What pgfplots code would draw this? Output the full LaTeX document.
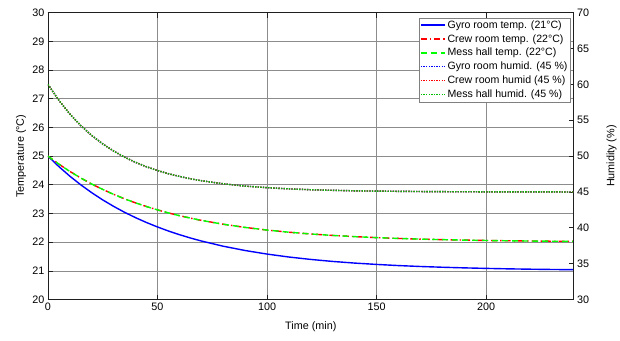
\documentclass[border=0pt]{standalone}
\usepackage{pgfplots}
\pgfplotsset{compat=1.18}
\usepackage{fontspec}
\setmainfont{Liberation Sans}
\definecolor{gridc}{gray}{0.55}
\definecolor{axc}{gray}{0.12}

\begin{document}
\begin{tikzpicture}[font=\fontsize{10.8}{12.5}\selectfont]
\pgfplotsset{
  every axis/.append style={
    scale only axis, width=526pt, height=287pt,
    at={(0,0)}, anchor=south west,
    xmin=0, xmax=240,
    /pgf/number format/assume math mode=true,
    tick style={axc, line width=0.7pt},
    major tick length=5pt,
    axis line style={axc, line width=0.8pt},
    tick align=inside,
  },
}
% ---------- Left axis: temperature ----------
\begin{axis}[
  ymin=20, ymax=30,
  ytick={20,21,...,30},
  xtick={0,50,100,150,200},
  axis y line*=left,
  axis x line*=box,
  xtick pos=both,
  grid=major,
  major grid style={gridc, line width=0.7pt},
  xlabel={Time (min)},
  ylabel={Temperature (°C)},
  xlabel style={at={(axis description cs:0.5,-0.094)}, anchor=center},
  ylabel style={at={(axis description cs:-0.0513,0.5)}, anchor=center},
]
% Gyro room temp
\addplot[blue, line width=1.4pt] coordinates {
(0,25.000) (5,24.633) (10,24.300) (15,23.998) (20,23.723) (25,23.473) (30,23.247) (35,23.040)
(40,22.854) (45,22.684) (50,22.530) (55,22.389) (60,22.262) (65,22.146) (70,22.041) (80,21.859)
(90,21.709) (100,21.585) (110,21.482) (120,21.398) (130,21.328) (140,21.271) (150,21.224)
(160,21.184) (170,21.152) (180,21.126) (190,21.104) (200,21.086) (210,21.070) (220,21.058)
(230,21.048) (240,21.040)};
% Crew room temp
\addplot[red, line width=1.4pt, dash pattern=on 6pt off 3pt on 1.5pt off 3pt] coordinates {
(0,25.000) (5,24.720) (10,24.466) (15,24.236) (20,24.027) (25,23.838) (30,23.666) (35,23.510)
(40,23.369) (45,23.241) (50,23.126) (55,23.020) (60,22.925) (65,22.839) (70,22.760) (80,22.625)
(90,22.514) (100,22.422) (110,22.347) (120,22.285) (130,22.235) (140,22.193) (150,22.158)
(160,22.130) (170,22.107) (180,22.088) (190,22.072) (200,22.059) (210,22.049) (220,22.040)
(230,22.033) (240,22.027)};
% Mess hall temp
\addplot[green, line width=1.4pt, dash pattern=on 6pt off 4pt] coordinates {
(0,25.000) (5,24.720) (10,24.466) (15,24.236) (20,24.027) (25,23.838) (30,23.666) (35,23.510)
(40,23.369) (45,23.241) (50,23.126) (55,23.020) (60,22.925) (65,22.839) (70,22.760) (80,22.625)
(90,22.514) (100,22.422) (110,22.347) (120,22.285) (130,22.235) (140,22.193) (150,22.158)
(160,22.130) (170,22.107) (180,22.088) (190,22.072) (200,22.059) (210,22.049) (220,22.040)
(230,22.033) (240,22.027)};
\end{axis}
% ---------- Right axis: humidity ----------
\begin{axis}[
  ymin=30, ymax=70,
  ytick={30,35,...,70},
  axis y line*=right,
  axis x line=none,
  ylabel={Humidity (\%)},
  ylabel style={at={(axis description cs:1.0722,0.5)}, anchor=center},
  legend cell align=left,
  legend style={at={(0.9943,0.983)}, anchor=north east, draw=gray,
    inner sep=1pt, row sep=0.6pt, font=\fontsize{10.6}{12.5}\selectfont},
  legend image code/.code={\draw[#1] (0pt,0pt) -- (24pt,0pt);},
]
\addlegendimage{legend image code/.code={%
  \node[inner sep=0pt, anchor=west] at (0pt,0pt) {\textcolor{blue}{\rule[-0.7pt]{24pt}{1.4pt}}};}}
\addlegendentry{Gyro room temp. (21°C)}
\addlegendimage{color=red, draw=red, line width=1.4pt, dash pattern=on 6pt off 3pt on 1.5pt off 3pt}
\addlegendentry{Crew room temp. (22°C)}
\addlegendimage{color=green, draw=green, line width=1.4pt, dash pattern=on 6pt off 4pt}
\addlegendentry{Mess hall temp. (22°C)}
\addplot[blue, line width=1.4pt, dash pattern=on 1.3pt off 1.3pt] coordinates {
(0,60.00) (5,57.77) (10,55.86) (15,54.25) (20,52.87) (25,51.70) (30,50.70) (35,49.85)
(40,49.13) (45,48.51) (50,47.99) (55,47.54) (60,47.17) (65,46.84) (70,46.57) (80,46.14)
(90,45.82) (100,45.60) (110,45.43) (120,45.31) (130,45.23) (140,45.16) (150,45.12)
(160,45.09) (170,45.06) (180,45.04) (190,45.03) (200,45.02) (220,45.01) (240,45.00)};
\addlegendentry{Gyro room humid. (45 \%)}
\addplot[red, line width=1.4pt, dash pattern=on 1.3pt off 1.3pt] coordinates {
(0,60.00) (5,57.77) (10,55.86) (15,54.25) (20,52.87) (25,51.70) (30,50.70) (35,49.85)
(40,49.13) (45,48.51) (50,47.99) (55,47.54) (60,47.17) (65,46.84) (70,46.57) (80,46.14)
(90,45.82) (100,45.60) (110,45.43) (120,45.31) (130,45.23) (140,45.16) (150,45.12)
(160,45.09) (170,45.06) (180,45.04) (190,45.03) (200,45.02) (220,45.01) (240,45.00)};
\addlegendentry{Crew room humid (45 \%)}
\addplot[green!75!black, line width=1.4pt, dash pattern=on 1.3pt off 1.3pt] coordinates {
(0,60.00) (5,57.77) (10,55.86) (15,54.25) (20,52.87) (25,51.70) (30,50.70) (35,49.85)
(40,49.13) (45,48.51) (50,47.99) (55,47.54) (60,47.17) (65,46.84) (70,46.57) (80,46.14)
(90,45.82) (100,45.60) (110,45.43) (120,45.31) (130,45.23) (140,45.16) (150,45.12)
(160,45.09) (170,45.06) (180,45.04) (190,45.03) (200,45.02) (220,45.01) (240,45.00)};
\addlegendentry{Mess hall humid. (45 \%)}
\end{axis}
\path (-48pt,-41pt) rectangle (572pt,299.7pt);
\end{tikzpicture}
\end{document}
